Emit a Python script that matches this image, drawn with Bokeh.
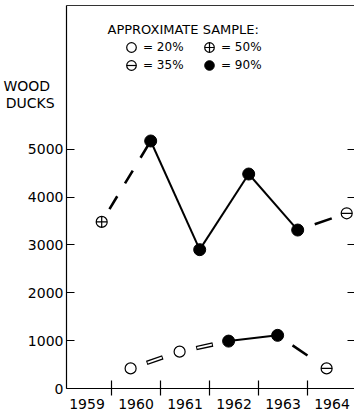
from bokeh.plotting import figure
from bokeh.models import Range1d, LinearAxis, FixedTicker, Label, Legend, LegendItem
from bokeh.embed import file_html
from bokeh.resources import INLINE

# ---------------- data ----------------
year_labels = ["1959", "1960", "1961", "1962", "1963", "1964"]
years = [1959, 1960, 1961, 1962, 1963, 1964]

upper_years = [1959, 1960, 1961, 1962, 1963, 1964]
upper_values = [3480, 5170, 2900, 4480, 3310, 3660]
upper_sample = [50, 90, 90, 90, 90, 35]
upper_links = ["dashed", "solid", "solid", "solid", "single"]

lower_years = [1960, 1961, 1962, 1963, 1964]
lower_values = [420, 770, 990, 1110, 420]
lower_sample = [20, 20, 90, 90, 35]
lower_links = ["hollow", "hollow", "solid", "single"]

y_ticks = [0, 1000, 2000, 3000, 4000, 5000]
y_tick_labels = ["0", "1000", "2000", "3000", "4000", "5000"]

sample_kinds = [20, 35, 50, 90]
sample_labels = ["= 20%", "= 35%", "= 50%", "= 90%"]
legend_title = "APPROXIMATE SAMPLE:"
y_title = ["WOOD", "DUCKS"]

# ---------------- style / layout ----------------
FONT = "DejaVu Sans"
INK = "black"
UPPER_POS = 0.8    # position of upper-series point inside its year
LOWER_POS = 0.39   # position of lower-series point inside its year
PX_PER_YEAR = 49.0
FRAME_LEFT, FRAME_TOP = 66, 5
FRAME_W, FRAME_H = 288, 383
FRAME_BOTTOM = FRAME_TOP + FRAME_H
LEFT_PAD_PX = 45   # frame left edge to first year boundary
X0 = years[1] - LEFT_PAD_PX / PX_PER_YEAR
X1 = X0 + FRAME_W / PX_PER_YEAR
Y1 = 8000


def y_at_px(py):
    return (FRAME_BOTTOM - py) * Y1 / FRAME_H


p = figure(frame_width=FRAME_W, frame_height=FRAME_H,
           x_range=Range1d(X0, X1), y_range=Range1d(0, Y1),
           output_backend="svg", toolbar_location=None,
           x_axis_location=None, y_axis_location=None,
           min_border_left=FRAME_LEFT, min_border_right=0,
           min_border_top=FRAME_TOP, min_border_bottom=0)
p.xgrid.grid_line_color = None
p.ygrid.grid_line_color = None
p.outline_line_color = None
p.background_fill_color = "white"
p.border_fill_color = "white"

# bottom axis: boundary ticks (minor) and centred year labels (major)
centers = [y + 0.5 for y in years]
xa = LinearAxis(ticker=FixedTicker(ticks=centers, minor_ticks=years[1:]),
                major_label_overrides={c: lab for c, lab in zip(centers, year_labels)},
                major_tick_in=0, major_tick_out=0,
                minor_tick_in=8, minor_tick_out=7,
                minor_tick_line_color=INK, minor_tick_line_width=1.2,
                axis_line_color=INK, axis_line_width=1.2,
                major_label_text_font=FONT, major_label_text_font_size="14px",
                major_label_text_color=INK, major_label_standoff=3)
p.add_layout(xa, "below")

# left axis: value ticks (drawn as minor ticks) + labels, incl. the axis title lines
NB = "\u00a0"
title_pos = [y_at_px(85), y_at_px(102.5)]
title_txt = [y_title[0] + NB * 3, y_title[1] + NB * 2]
left_major = y_ticks + title_pos
left_labels = y_tick_labels + title_txt
ya = LinearAxis(ticker=FixedTicker(ticks=left_major, minor_ticks=y_ticks),
                major_label_overrides={t: lab for t, lab in zip(left_major, left_labels)},
                major_tick_line_color=None, major_tick_in=0, major_tick_out=0,
                minor_tick_in=8, minor_tick_out=0,
                minor_tick_line_color=INK, minor_tick_line_width=1.2,
                axis_line_color=INK, axis_line_width=1.2,
                major_label_text_font=FONT, major_label_text_font_size="14px",
                major_label_text_color=INK, major_label_standoff=3)
p.add_layout(ya, "left")

ra = LinearAxis(ticker=FixedTicker(ticks=y_ticks[1:]),
                major_label_overrides={t: "" for t in y_ticks[1:]},
                major_tick_in=7, major_tick_out=0,
                major_tick_line_color=INK, major_tick_line_width=1.2,
                axis_line_color=None, major_label_text_font_size="0px",
                major_label_standoff=0)
p.add_layout(ra, "right")

ta = LinearAxis(ticker=FixedTicker(ticks=[]), axis_line_color="#333333", axis_line_width=1.0,
                major_tick_in=0, major_tick_out=0, major_label_standoff=0,
                major_label_text_font_size="0px")
p.add_layout(ta, "above")


# ---------------- connecting lines ----------------
def link(x0, y0, x1, y1, kind):
    xs, ys = [x0, x1], [y0, y1]
    if kind == "solid":
        p.line(xs, ys, line_color=INK, line_width=2)
    elif kind == "dashed":
        p.line(xs, ys, line_color=INK, line_width=2.6, line_dash="15 15", line_dash_offset=15)
    elif kind == "single":
        p.line(xs, ys, line_color=INK, line_width=2.6, line_dash="18 80", line_dash_offset=80)
    elif kind == "hollow":
        p.line(xs, ys, line_color=INK, line_width=4.4, line_dash="17 80", line_dash_offset=80)
        p.line(xs, ys, line_color="white", line_width=1.8, line_dash="15 80", line_dash_offset=77)


ux = [y + UPPER_POS for y in upper_years]
lx = [y + LOWER_POS for y in lower_years]
for i, kind in enumerate(upper_links):
    link(ux[i], upper_values[i], ux[i + 1], upper_values[i + 1], kind)
for i, kind in enumerate(lower_links):
    link(lx[i], lower_values[i], lx[i + 1], lower_values[i + 1], kind)

# ---------------- markers ----------------
all_x = ux + lx
all_y = upper_values + lower_values
all_s = upper_sample + lower_sample


def pts(kind):
    return ([x for x, s in zip(all_x, all_s) if s == kind],
            [y for y, s in zip(all_y, all_s) if s == kind])


renderers = {}
x20, y20 = pts(20)
renderers[20] = [p.scatter(x20, y20, marker="circle", size=11, fill_color="white",
                           line_color=INK, line_width=1.2)]
x35, y35 = pts(35)
renderers[35] = [p.scatter(x35, y35, marker="circle", size=11, fill_color="white",
                           line_color=INK, line_width=1.2),
                 p.scatter(x35, y35, marker="dash", size=11, line_color=INK, line_width=1.2)]
x50, y50 = pts(50)
renderers[50] = [p.scatter(x50, y50, marker="circle_cross", size=11, fill_color="white",
                           line_color=INK, line_width=1.2)]
x90, y90 = pts(90)
renderers[90] = [p.scatter(x90, y90, marker="circle", size=12, fill_color=INK,
                           line_color=INK, line_width=1)]

# ---------------- legend (one small legend per entry, placed on the page) ----------------
lab = dict(zip(sample_kinds, sample_labels))
GLYPH = 24
legend_centers = {20: (131, 47), 50: (209, 47), 35: (131, 65), 90: (209, 65)}

for k in sample_kinds:
    cx, cy = legend_centers[k]
    loc = (cx - GLYPH // 2 - FRAME_LEFT, FRAME_BOTTOM - (cy + GLYPH // 2))
    leg = Legend(items=[LegendItem(label=lab[k], renderers=renderers[k])],
                 location=loc, orientation="vertical",
                 glyph_width=GLYPH, glyph_height=GLYPH, label_height=GLYPH,
                 label_standoff=-3, spacing=0, padding=0, margin=0,
                 border_line_color=None, background_fill_alpha=0,
                 label_text_font=FONT, label_text_font_size="12px",
                 label_text_color=INK)
    p.add_layout(leg)

p.add_layout(Label(x=107 - FRAME_LEFT, y=FRAME_BOTTOM - 29, x_units="screen", y_units="screen",
                   text=legend_title, text_font=FONT, text_font_size="13px", text_color=INK,
                   text_baseline="alphabetic"))

open("out.html", "w").write(file_html(p, INLINE))
